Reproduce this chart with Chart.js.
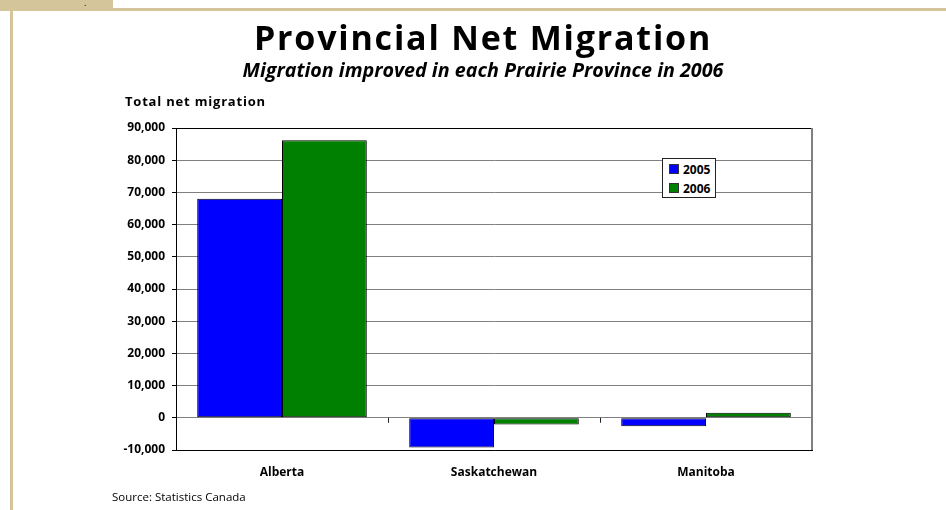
<!DOCTYPE html>
<html>
<head>
<meta charset="utf-8">
<script src="https://cdn.jsdelivr.net/npm/chart.js@4.4.1/dist/chart.umd.min.js"></script>
<style>
    html, body { margin: 0; padding: 0; background: #fff; }
    #wrap { position: relative; width: 946px; height: 510px; overflow: hidden; font-family: "Open Sans", sans-serif; font-variant-ligatures: none; }
    #chart { position: absolute; left: 0; top: 0; }
    .tan { position: absolute; background: #d5c59a; }
    .txt { position: absolute; white-space: nowrap; color: #000; }
    #legend { position: absolute; left: 662px; top: 158px; width: 52px; height: 38px; border: 1px solid #222; background: #fff; }
    #legend .item { position: absolute; left: 6px; font-weight: bold; font-size: 12px; line-height: 14px; }
    #legend .sw { display: inline-block; width: 8px; height: 8px; border: 1px solid #333; margin-right: 4px; vertical-align: 0px; }
</style>
</head>
<body>
<div id="wrap">
    <canvas id="chart" width="946" height="510"></canvas>
    <div class="tan" style="left:0;top:0;width:113px;height:11px;"></div>
    <div class="tan" style="left:113px;top:8px;width:833px;height:3px;"></div>
    <div class="tan" style="left:10px;top:11px;width:3px;height:499px;"></div>
    <div class="txt" style="left:84px;top:-4px;font-size:9px;">.</div>
    <div class="txt" id="title" style="left:0;width:966px;text-align:center;top:14px;font-size:34px;font-weight:bold;letter-spacing:1.8px;"></div>
    <div class="txt" id="subtitle" style="left:0;width:966px;text-align:center;top:56px;font-size:19.7px;font-weight:bold;font-style:italic;"></div>
    <div class="txt" id="ytitle" style="left:125px;top:92px;font-size:13px;font-weight:bold;letter-spacing:0.8px;"></div>
    <div class="txt" id="source" style="left:112px;top:489px;font-size:11.5px;"></div>
    <div id="legend"></div>
</div>
<script>
    // Chart data
    const provinces = ['Alberta', 'Saskatchewan', 'Manitoba'];
    const years = ['2005', '2006'];
    const migration2005 = [68000, -9200, -2600];
    const migration2006 = [86200, -2100, 1550];
    const barColors = ['#0000ff', '#008000'];
    const yTicks = [-10000, 0, 10000, 20000, 30000, 40000, 50000, 60000, 70000, 80000, 90000];

    // Texts
    document.getElementById('title').textContent = 'Provincial Net Migration';
    document.getElementById('subtitle').textContent = 'Migration improved in each Prairie Province in 2006';
    document.getElementById('ytitle').textContent = 'Total net migration';
    document.getElementById('source').textContent = 'Source: Statistics Canada';

    // Legend built from the series names and colours
    const legend = document.getElementById('legend');
    years.forEach(function (year, i) {
        const item = document.createElement('div');
        item.className = 'item';
        item.style.top = (4 + i * 19) + 'px';
        const sw = document.createElement('span');
        sw.className = 'sw';
        sw.style.background = barColors[i];
        item.appendChild(sw);
        item.appendChild(document.createTextNode(year));
        legend.appendChild(item);
    });

    // Frame lines and the small category ticks on the zero line
    const framePlugin = {
        id: 'frame',
        afterDraw(chart) {
            const ctx = chart.ctx;
            const area = chart.chartArea;
            const x = chart.scales.x;
            const y = chart.scales.y;
            const zero = y.getPixelForValue(0);
            ctx.save();
            ctx.lineWidth = 1;
            ctx.strokeStyle = '#000';
            ctx.beginPath();
            ctx.moveTo(area.left, Math.round(area.top) + 0.5);
            ctx.lineTo(area.right, Math.round(area.top) + 0.5);
            ctx.stroke();
            ctx.strokeStyle = '#808080';
            ctx.lineWidth = 2;
            ctx.beginPath();
            ctx.moveTo(area.right, area.top);
            ctx.lineTo(area.right, area.bottom);
            ctx.stroke();
            ctx.strokeStyle = '#222';
            ctx.lineWidth = 1;
            for (let i = 0; i < provinces.length - 1; i++) {
                const px = Math.round((x.getPixelForValue(i) + x.getPixelForValue(i + 1)) / 2) + 0.5;
                ctx.beginPath();
                ctx.moveTo(px, zero);
                ctx.lineTo(px, zero + 5);
                ctx.stroke();
            }
            ctx.restore();
        }
    };

    const ctx = document.getElementById('chart').getContext('2d');
    const chart = new Chart(ctx, {
        type: 'bar',
        data: {
            labels: provinces,
            datasets: [
                {
                    label: years[0],
                    data: migration2005,
                    backgroundColor: barColors[0],
                    borderColor: '#000',
                    borderWidth: 1,
                    borderSkipped: false
                },
                {
                    label: years[1],
                    data: migration2006,
                    backgroundColor: barColors[1],
                    borderColor: '#000',
                    borderWidth: 1,
                    borderSkipped: false
                }
            ]
        },
        options: {
            responsive: false,
            animation: false,
            layout: { padding: { left: 0, right: 134, top: 128, bottom: 0 } },
            datasets: { bar: { categoryPercentage: 0.8, barPercentage: 1.0 } },
            plugins: {
                legend: { display: false },
                tooltip: { enabled: false }
            },
            scales: {
                x: {
                    grid: { display: false, drawTicks: false },
                    border: { display: true, color: '#000', width: 1 },
                    ticks: { color: '#000', padding: 15, font: { family: 'Open Sans', size: 12, weight: 'bold' } },
                    afterFit: function (scale) { scale.height = 60; }
                },
                y: {
                    min: -10000,
                    max: 90000,
                    afterBuildTicks: function (scale) {
                        scale.ticks = yTicks.map(v => ({ value: v }));
                    },
                    grid: { color: '#808080', lineWidth: 1, tickLength: 4, tickColor: '#000' },
                    border: { display: true, color: '#000', width: 1 },
                    ticks: {
                        color: '#000',
                        padding: 7,
                        font: { family: 'Open Sans', size: 12, weight: 'bold' },
                        callback: function (v) { return v.toLocaleString('en-US'); }
                    },
                    afterFit: function (scale) { scale.width = 176; }
                }
            }
        },
        plugins: [framePlugin]
    });
</script>
</body>
</html>
